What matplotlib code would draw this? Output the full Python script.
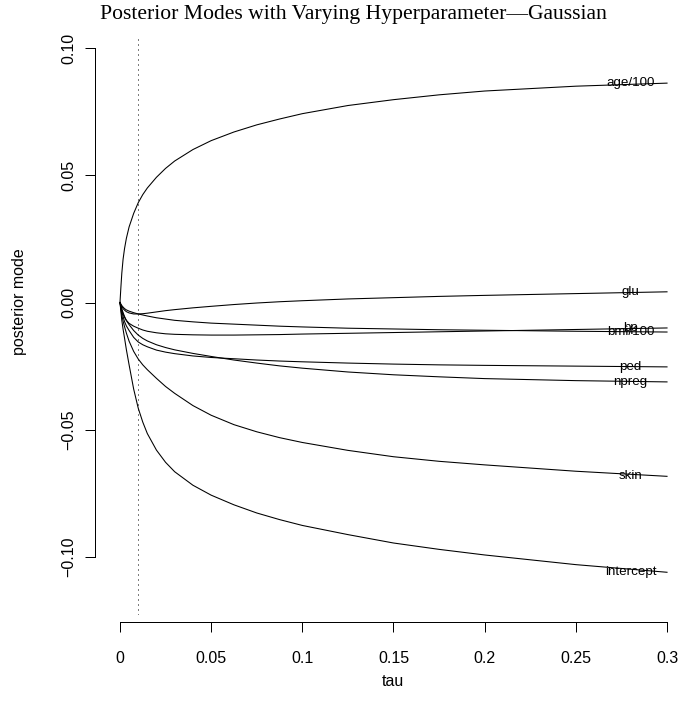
import numpy as np
import matplotlib
matplotlib.use("Agg")
import matplotlib.pyplot as plt

# tau grid and posterior modes
tau = [0, 0.0005, 0.001, 0.0017, 0.0025, 0.0035, 0.005, 0.0075, 0.01, 0.0125,
       0.015, 0.02, 0.025, 0.03, 0.04, 0.05, 0.0625, 0.075, 0.0875, 0.1,
       0.125, 0.15, 0.175, 0.2, 0.25, 0.3]

age = [0, 0.006, 0.0115, 0.0170, 0.0212, 0.0252, 0.0297, 0.0350, 0.0392, 0.0424,
       0.0450, 0.0492, 0.0527, 0.0556, 0.0601, 0.0636, 0.0670, 0.0698, 0.0721, 0.0742,
       0.0774, 0.0797, 0.0816, 0.0831, 0.0850, 0.0862]
glu = [0, -0.0009, -0.0016, -0.0024, -0.0030, -0.0036, -0.0041, -0.0045, -0.0045, -0.0044,
       -0.0042, -0.0037, -0.0032, -0.0028, -0.0021, -0.0015, -0.0008, -0.0002, 0.0003, 0.0007,
       0.0014, 0.0019, 0.0024, 0.0028, 0.0035, 0.0042]
bp = [0, -0.0016, -0.0030, -0.0045, -0.0058, -0.0070, -0.0082, -0.0093, -0.0101, -0.0108,
      -0.0113, -0.0119, -0.0123, -0.0125, -0.0127, -0.0128, -0.0128, -0.0127, -0.0126, -0.0124,
      -0.0121, -0.0118, -0.0115, -0.0112, -0.0106, -0.0100]
bmi = [0, -0.0006, -0.0012, -0.0018, -0.0024, -0.0029, -0.0034, -0.0040, -0.0045, -0.0049,
       -0.0053, -0.0060, -0.0065, -0.0070, -0.0076, -0.0081, -0.0085, -0.0089, -0.0093, -0.0096,
       -0.0101, -0.0104, -0.0107, -0.0109, -0.0113, -0.0116]
ped = [0, -0.0018, -0.0035, -0.0055, -0.0075, -0.0092, -0.0110, -0.0137, -0.0155, -0.0166,
       -0.0174, -0.0187, -0.0195, -0.0201, -0.0210, -0.0216, -0.0221, -0.0226, -0.0230, -0.0233,
       -0.0238, -0.0242, -0.0245, -0.0247, -0.0250, -0.0253]
npreg = [0, -0.0013, -0.0025, -0.0040, -0.0055, -0.0071, -0.0087, -0.0110, -0.0128, -0.0141,
         -0.0151, -0.0166, -0.0177, -0.0186, -0.0200, -0.0212, -0.0226, -0.0238, -0.0249, -0.0258,
         -0.0273, -0.0284, -0.0292, -0.0299, -0.0307, -0.0312]
skin = [0, -0.0028, -0.0050, -0.0073, -0.0095, -0.0120, -0.0152, -0.0192, -0.0222, -0.0245,
        -0.0264, -0.0298, -0.0330, -0.0357, -0.0405, -0.0443, -0.0480, -0.0508, -0.0531, -0.0550,
        -0.0581, -0.0606, -0.0624, -0.0638, -0.0663, -0.0683]
intercept = [0, -0.0035, -0.0070, -0.0105, -0.0140, -0.0185, -0.0245, -0.0340, -0.0415, -0.0470,
             -0.0515, -0.0580, -0.0628, -0.0665, -0.0718, -0.0757, -0.0795, -0.0827, -0.0853, -0.0876,
             -0.0912, -0.0945, -0.0970, -0.0992, -0.1030, -0.1060]

names = ["age/100", "glu", "bp", "bmi/100", "ped", "npreg", "skin", "intercept"]
series = [age, glu, bp, bmi, ped, npreg, skin, intercept]

tau_star = 0.01
label_x = 0.28


def main():
    plt.rcParams["font.family"] = ["Liberation Sans", "DejaVu Sans"]
    W, H = 696, 708
    fig = plt.figure(figsize=(W / 96, H / 96), dpi=96)
    ax = fig.add_axes([98.1 / W, 93 / H, 590.8 / W, 576 / H])
    ax.patch.set_visible(False)

    for name, y in zip(names, series):
        ax.plot(tau, y, color="black", lw=0.8)
        ax.text(label_x, y[-1], name, ha="center", va="center", fontsize=10)

    ax.axvline(tau_star, color="black", lw=0.75, ls=(0, (1, 4)))

    ax.set_xlim(-0.012, 0.312)
    ax.set_ylim(-0.12279, 0.10354)

    for s in ["top", "right"]:
        ax.spines[s].set_visible(False)
    ax.spines["left"].set_position(("outward", 2.25))
    ax.spines["bottom"].set_position(("outward", 5.25))
    ax.spines["left"].set_bounds(-0.1, 0.1)
    ax.spines["bottom"].set_bounds(0, 0.3)
    for s in ["left", "bottom"]:
        ax.spines[s].set_linewidth(0.75)

    ax.set_xticks([0, 0.05, 0.1, 0.15, 0.2, 0.25, 0.3])
    ax.set_xticklabels(["0", "0.05", "0.1", "0.15", "0.2", "0.25", "0.3"])
    ax.set_yticks([-0.1, -0.05, 0, 0.05, 0.1])
    ax.set_yticklabels(["\u22120.10", "\u22120.05", "0.00", "0.05", "0.10"])
    ax.tick_params(length=7.2, width=0.75, labelsize=12, pad=7)
    ax.tick_params(axis="x", pad=14.5)
    for lab in ax.get_yticklabels():
        lab.set_rotation(90)
        lab.set_va("center")

    fig.text(353 / W, 1 - 15 / H, "Posterior Modes with Varying Hyperparameter\u2014Gaussian",
             ha="center", va="center", fontsize=16.2, family="Liberation Serif")
    fig.text(393 / W, 1 - 682 / H, "tau", ha="center", va="center", fontsize=12)
    fig.text(20 / W, 1 - 302 / H, "posterior mode", ha="center", va="center",
             rotation=90, fontsize=12)

    fig.savefig("out.png", dpi=96)


if __name__ == "__main__":
    main()
